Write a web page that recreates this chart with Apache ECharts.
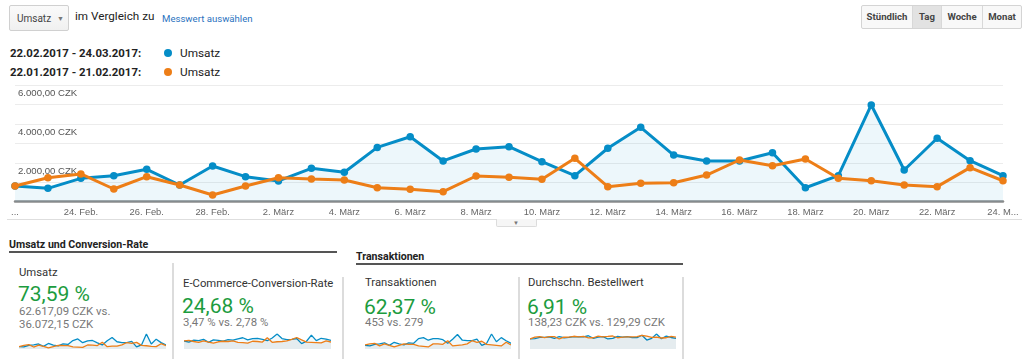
<!DOCTYPE html>
<html>
<head>
<meta charset="utf-8">
<script src="https://cdn.jsdelivr.net/npm/echarts/dist/echarts.min.js"></script>
<style>
  html, body { margin: 0; padding: 0; background: #fff; }
  body { width: 1029px; height: 359px; position: relative; overflow: hidden; font-family: Roboto, "Liberation Sans", Arial, sans-serif; color: #222; }
  .abs { position: absolute; white-space: nowrap; }
  .dropdown { left: 9px; top: 5px; width: 60px; height: 26px; border: 1px solid #d0d0d0; border-radius: 2px; background: linear-gradient(#fafafa, #f0f0f0); box-sizing: border-box; }
  .dropdown span.t { position: absolute; left: 7px; top: 7px; font-size: 10px; color: #444; line-height: 12px; }
  .dropdown span.a { position: absolute; left: 47px; top: 8px; font-size: 7px; color: #777; line-height: 10px; }
  .btns { left: 861px; top: 5px; height: 24px; border: 1px solid #d4d4d4; border-radius: 2px; display: flex; box-sizing: border-box; background: #f8f8f8; }
  .btns div { font-size: 9.6px; font-weight: bold; color: #444; line-height: 22px; text-align: center; border-left: 1px solid #d8d8d8; box-sizing: border-box; }
  .btns div:first-child { border-left: none; }
  .btns div.sel { background: #e2e2e2; }
  .legtxt { font-size: 11.4px; font-weight: bold; color: #222; line-height: 14px; }
  .legname { font-size: 11.8px; color: #222; line-height: 14px; }
  .dot { width: 8px; height: 8px; border-radius: 50%; }
  .sec { font-size: 10.6px; font-weight: bold; color: #222; line-height: 13px; }
  .rule { height: 1.5px; background: #555; }
  .vsep { width: 1.5px; background: #dcdcdc; }
  .ctitle { font-size: 11.3px; color: #333; line-height: 14px; }
  .cbig { font-size: 21px; color: #1c9c3e; line-height: 24px; }
  .csub { font-size: 11.4px; color: #777; line-height: 13px; }
  .chart { position: absolute; }
</style>
</head>
<body>
<script>
// ---------- data ----------
const categories = ['...', '23. Feb.', '24. Feb.', '25. Feb.', '26. Feb.', '27. Feb.', '28. Feb.',
  '1. März', '2. März', '3. März', '4. März', '5. März', '6. März', '7. März', '8. März', '9. März',
  '10. März', '11. März', '12. März', '13. März', '14. März', '15. März', '16. März', '17. März',
  '18. März', '19. März', '20. März', '21. März', '22. März', '23. März', '24. M...'];

// Umsatz 22.02.2017 - 24.03.2017 (CZK)
const umsatzCurrent = [810, 690, 1205, 1340, 1670, 860, 1840, 1290, 1070, 1720, 1515,
  2800, 3350, 2100, 2715, 2835, 2060, 1340, 2755, 3835, 2405,
  2100, 2100, 2525, 720, 1340, 4985, 1635, 3270, 2115, 1340];
// Umsatz 22.01.2017 - 21.02.2017 (CZK)
const umsatzPrevious = [810, 1235, 1430, 655, 1290, 860, 345, 810, 1235, 1170, 1120,
  720, 640, 515, 1325, 1260, 1155, 2235, 775, 950, 980,
  1375, 2150, 1855, 2200, 1205, 1080, 860, 775, 1755, 1080];

const yTickLabels = ['', '', '2.000,00 CZK', '', '4.000,00 CZK', '', '6.000,00 CZK'];

// sparkline estimates
const cvrCurrent = [3.0, 2.6, 3.3, 3.1, 3.6, 2.5, 3.4, 3.2, 2.9, 3.5, 3.3,
  3.8, 4.2, 3.4, 3.9, 4.0, 3.6, 3.1, 4.1, 5.6, 3.9,
  3.5, 3.6, 3.9, 2.0, 2.9, 5.2, 3.1, 4.0, 3.7, 3.2];
const cvrPrevious = [3.0, 3.2, 2.8, 2.5, 3.0, 2.6, 2.2, 2.7, 2.9, 2.8, 3.0,
  2.5, 2.4, 2.2, 2.9, 2.8, 2.6, 4.2, 2.5, 2.7, 2.8,
  3.0, 3.6, 4.3, 3.4, 2.6, 2.5, 2.4, 2.3, 3.0, 2.6];
const transCurrent = [7, 6, 9, 10, 12, 7, 13, 10, 8, 12, 11,
  20, 22, 17, 20, 20, 18, 11, 19, 28,
  17, 16, 16, 19, 7, 11, 29, 14, 22, 16, 11];
const transPrevious = [8, 10, 11, 6, 10, 7, 4, 7, 10, 9, 9,
  6, 5, 4, 10, 10, 9, 16, 6, 7,
  8, 10, 16, 13, 15, 9, 8, 7, 6, 13, 8];
const aovCurrent = [115, 120, 134, 134, 139, 123, 142, 129, 133, 143, 138,
  140, 152, 123, 136, 142, 115, 122, 145, 137, 142,
  131, 131, 158, 103, 122, 172, 117, 149, 132, 122];
const aovPrevious = [116, 137, 143, 131, 143, 143, 115, 135, 137, 146, 140,
  144, 128, 129, 147, 140, 144, 149, 129, 135, 140,
  138, 143, 155, 147, 134, 135, 126, 129, 146, 135];
</script>

<!-- top controls -->
<div class="abs dropdown"><span class="t">Umsatz</span><span class="a">▼</span></div>
<div class="abs" style="left:75px; top:9px; font-size:11.7px; line-height:15px; color:#222;">im Vergleich zu</div>
<div class="abs" style="left:162px; top:13px; font-size:9.6px; line-height:12px; color:#2a72c0;">Messwert auswählen</div>

<div class="abs btns">
  <div style="width:50px;">Stündlich</div>
  <div class="sel" style="width:29px;">Tag</div>
  <div style="width:41px;">Woche</div>
  <div style="width:39px;">Monat</div>
</div>

<!-- legend -->
<div class="abs legtxt" style="left:10px; top:46px;">22.02.2017 - 24.03.2017:</div>
<div class="abs dot" style="left:164px; top:49px; background:#058dc7;"></div>
<div class="abs legname" style="left:180px; top:46px;">Umsatz</div>
<div class="abs legtxt" style="left:10px; top:65px;">22.01.2017 - 21.02.2017:</div>
<div class="abs dot" style="left:164px; top:68px; background:#ed7e17;"></div>
<div class="abs legname" style="left:180px; top:65px;">Umsatz</div>

<!-- main chart -->
<div id="main" class="chart" style="left:0; top:80px; width:1029px; height:140px;"></div>
<div class="abs" style="left:7px; top:219px; width:1015px; height:1px; background:#dedede;"></div>
<div class="abs" style="left:496px; top:219px; width:41px; height:8px; border:1px solid #dcdcdc; border-top:none; background:#f6f6f6; box-sizing:border-box; border-radius:0 0 2px 2px;"></div>
<div class="abs" style="left:513px; top:219px; font-size:6px; line-height:7px; color:#777;">▼</div>

<!-- sections -->
<div class="abs sec" style="left:9px; top:238px;">Umsatz und Conversion-Rate</div>
<div class="abs rule" style="left:9px; top:251px; width:328px;"></div>
<div class="abs sec" style="left:356px; top:250px;">Transaktionen</div>
<div class="abs rule" style="left:356px; top:263px; width:327px;"></div>

<div class="abs vsep" style="left:172px; top:263px; height:96px;"></div>
<div class="abs vsep" style="left:342px; top:277px; height:82px;"></div>
<div class="abs vsep" style="left:518px; top:277px; height:82px;"></div>
<div class="abs vsep" style="left:682px; top:277px; height:82px;"></div>

<!-- card 1 -->
<div class="abs ctitle" style="left:19px; top:266px;">Umsatz</div>
<div class="abs cbig" style="left:18px; top:282px;">73,59 %</div>
<div class="abs csub" style="left:19px; top:305px;">62.617,09 CZK vs.</div>
<div class="abs csub" style="left:19px; top:318px;">36.072,15 CZK</div>
<!-- card 2 -->
<div class="abs ctitle" style="left:183px; top:277px;">E-Commerce-Conversion-Rate</div>
<div class="abs cbig" style="left:182px; top:294px;">24,68 %</div>
<div class="abs csub" style="left:183px; top:316px;">3,47 % vs. 2,78 %</div>
<!-- card 3 -->
<div class="abs ctitle" style="left:365px; top:276px;">Transaktionen</div>
<div class="abs cbig" style="left:364px; top:295px;">62,37 %</div>
<div class="abs csub" style="left:365px; top:316px;">453 vs. 279</div>
<!-- card 4 -->
<div class="abs ctitle" style="left:528px; top:276px;">Durchschn. Bestellwert</div>
<div class="abs cbig" style="left:527px; top:295px;">6,91 %</div>
<div class="abs csub" style="left:528px; top:316px;">138,23 CZK vs. 129,29 CZK</div>

<div id="s1" class="chart" style="left:19px; top:333px; width:147px; height:17px;"></div>
<div id="s2" class="chart" style="left:184px; top:333px; width:147px; height:17px;"></div>
<div id="s3" class="chart" style="left:365px; top:333px; width:146px; height:17px;"></div>
<div id="s4" class="chart" style="left:530px; top:333px; width:146px; height:17px;"></div>

<script>
const BLUE = '#058dc7', ORANGE = '#ed7e17';
const main = echarts.init(document.getElementById('main'), null, { renderer: 'canvas' });
main.setOption({
  animation: false,
  grid: { left: 15, right: 26, top: 5.3, bottom: 18.3 },
  xAxis: {
    type: 'category',
    data: categories,
    boundaryGap: false,
    axisLine: { lineStyle: { color: '#8c8c8c', width: 2.5 } },
    axisTick: { show: false },
    axisLabel: { interval: 1, fontSize: 9.4, color: '#666', margin: 6, fontFamily: '"Liberation Sans", Arial, sans-serif' },
    splitLine: { show: false }
  },
  yAxis: {
    type: 'value',
    min: 0, max: 6000, interval: 1000,
    axisLine: { show: false },
    axisTick: { show: false },
    splitLine: { lineStyle: { color: '#ececec', width: 1 } },
    axisLabel: {
      inside: true, margin: 3,
      verticalAlign: 'top', padding: [3, 0, 0, 0],
      fontSize: 9.6, color: '#555', fontFamily: '"Liberation Sans", Arial, sans-serif',
      formatter: function (v) { return yTickLabels[Math.round(v / 1000)] || ''; }
    }
  },
  series: [
    {
      type: 'line', data: umsatzCurrent, symbol: 'circle', symbolSize: 7.5,
      lineStyle: { color: BLUE, width: 3 }, itemStyle: { color: BLUE },
      areaStyle: { color: 'rgba(5,141,199,0.10)' }, z: 3
    },
    {
      type: 'line', data: umsatzPrevious, symbol: 'circle', symbolSize: 7.5,
      lineStyle: { color: ORANGE, width: 3 }, itemStyle: { color: ORANGE }, z: 4
    }
  ]
});

function spark(id, cur, prev) {
  const c = echarts.init(document.getElementById(id), null, { renderer: 'canvas' });
  c.setOption({
    animation: false,
    grid: { left: 0, right: 0, top: 1, bottom: 1 },
    xAxis: { type: 'category', data: categories, boundaryGap: false, show: false },
    yAxis: { type: 'value', min: 0, max: 'dataMax', show: false },
    series: [
      { type: 'line', data: prev, symbol: 'none', lineStyle: { color: ORANGE, width: 1.3 },
        areaStyle: { color: 'rgba(0,0,0,0.07)' }, z: 3 },
      { type: 'line', data: cur, symbol: 'none', lineStyle: { color: BLUE, width: 1.3 },
        areaStyle: { color: 'rgba(5,141,199,0.08)' }, z: 2 }
    ]
  });
}
spark('s1', umsatzCurrent, umsatzPrevious);
spark('s2', cvrCurrent, cvrPrevious);
spark('s3', transCurrent, transPrevious);
spark('s4', aovCurrent, aovPrevious);
</script>
</body>
</html>
